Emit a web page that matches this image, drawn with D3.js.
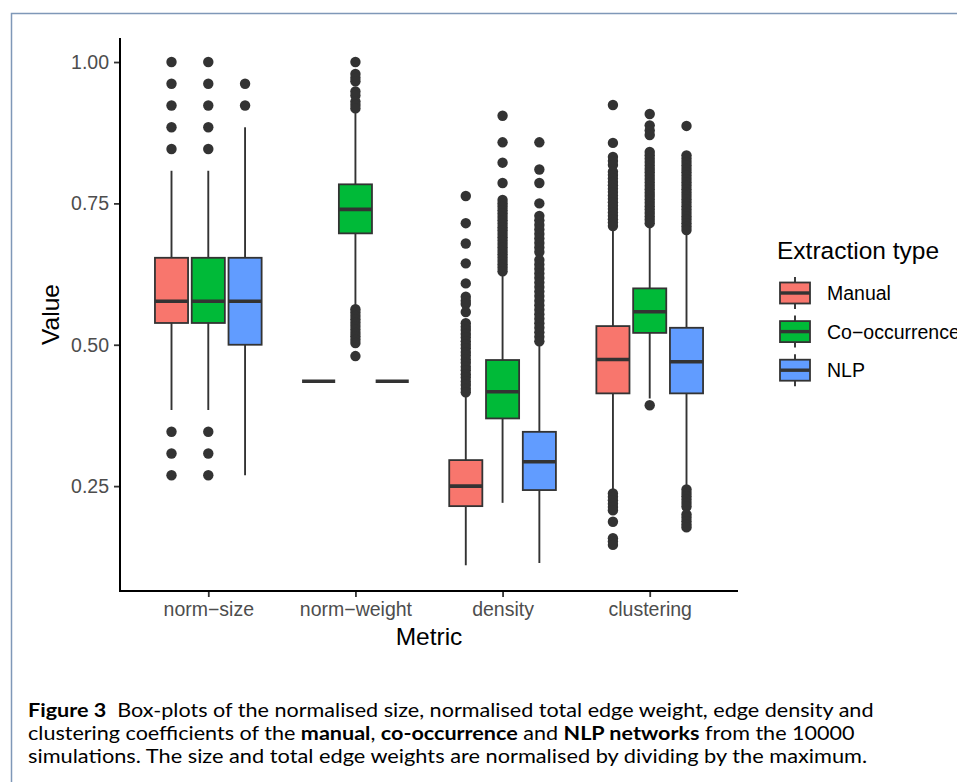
<!DOCTYPE html>
<html>
<head>
<meta charset="utf-8">
<script src="https://cdn.jsdelivr.net/npm/d3@7"></script>
<style>
  html, body { margin: 0; padding: 0; background: #ffffff; }
  svg { display: block; }
</style>
</head>
<body>
<svg id="chart" width="957" height="782"></svg>
<script>
// ---------------- DATA ----------------
const metrics = ["norm\u2212size", "norm\u2212weight", "density", "clustering"];
const types = ["Manual", "Co\u2212occurrence", "NLP"];
const typeColors = ["#F8766D", "#00BA38", "#619CFF"];
const yTickValues = [0.25, 0.50, 0.75, 1.00];
const yTickLabels = ["0.25", "0.50", "0.75", "1.00"];

// box statistics per metric (norm-size, norm-weight, density, clustering)
const manualLow    = [0.3846, 0.4355, 0.110, 0.240];
const manualQ1     = [0.5385, 0.4355, 0.2146, 0.414];
const manualMedian = [0.5769, 0.4355, 0.250, 0.474];
const manualQ3     = [0.6538, 0.4355, 0.296, 0.533];
const manualHigh   = [0.8077, 0.4355, 0.411, 0.706];

const coocLow    = [0.3846, 0.567, 0.2204, 0.405];
const coocQ1     = [0.5385, 0.697, 0.3697, 0.521];
const coocMedian = [0.5769, 0.7394, 0.4168, 0.5583];
const coocQ3     = [0.6538, 0.7837, 0.473, 0.5997];
const coocHigh   = [0.8077, 0.912, 0.623, 0.7117];

const nlpLow    = [0.2692, 0.4355, 0.114, 0.250];
const nlpQ1     = [0.500, 0.4355, 0.243, 0.414];
const nlpMedian = [0.5769, 0.4355, 0.293, 0.470];
const nlpQ3     = [0.6538, 0.4355, 0.346, 0.530];
const nlpHigh   = [0.8846, 0.4355, 0.4994, 0.697];

// outliers per metric
const manualOutliers = [
  [1.0, 0.9615, 0.9231, 0.8846, 0.8462, 0.3462, 0.3077, 0.2692],
  [],
  [0.763, 0.715, 0.679, 0.644, 0.6085, 0.585, 0.578, 0.572, 0.558, 0.538, 0.532, 0.526, 0.519,
   0.513, 0.506, 0.500, 0.494, 0.487, 0.481, 0.474, 0.468, 0.461, 0.455, 0.448, 0.442, 0.435,
   0.429, 0.422, 0.416],
  [0.924, 0.857, 0.832, 0.825, 0.818, 0.806, 0.800, 0.794, 0.788, 0.782, 0.776, 0.770, 0.764,
   0.758, 0.752, 0.746, 0.740, 0.734, 0.728, 0.722, 0.716, 0.710,
   0.237, 0.231, 0.225, 0.219, 0.213, 0.207, 0.187, 0.158, 0.152, 0.146]
];
const coocOutliers = [
  [1.0, 0.9615, 0.9231, 0.8846, 0.8462, 0.3462, 0.3077, 0.2692],
  [1.0, 0.979, 0.972, 0.966, 0.948, 0.941, 0.930, 0.924, 0.918,
   0.563, 0.557, 0.551, 0.545, 0.539, 0.533, 0.527, 0.521, 0.515, 0.509, 0.503, 0.480],
  [0.905, 0.858, 0.822, 0.786, 0.756, 0.750, 0.744, 0.738, 0.732, 0.726, 0.720, 0.714, 0.708,
   0.702, 0.696, 0.690, 0.684, 0.678, 0.672, 0.666, 0.660, 0.654, 0.648, 0.642, 0.636, 0.630],
  [0.908, 0.888, 0.879, 0.871, 0.841, 0.835, 0.829, 0.823, 0.817, 0.811, 0.805, 0.799, 0.793,
   0.787, 0.781, 0.775, 0.769, 0.763, 0.757, 0.751, 0.745, 0.739, 0.733, 0.727, 0.721, 0.715,
   0.393]
];
const nlpOutliers = [
  [0.9615, 0.9231],
  [],
  [0.858, 0.810, 0.786, 0.750, 0.728, 0.720, 0.712, 0.704, 0.696, 0.688, 0.680, 0.672, 0.664,
   0.650, 0.642, 0.634, 0.626, 0.618, 0.610, 0.602, 0.594, 0.586, 0.578, 0.570, 0.562, 0.554,
   0.546, 0.538, 0.530, 0.522, 0.514, 0.506],
  [0.887, 0.835, 0.829, 0.823, 0.817, 0.811, 0.805, 0.799, 0.793, 0.787, 0.781, 0.775, 0.769,
   0.763, 0.757, 0.751, 0.745, 0.739, 0.733, 0.727, 0.721, 0.715, 0.709, 0.703,
   0.244, 0.238, 0.232, 0.226, 0.220, 0.214, 0.200, 0.194, 0.188, 0.182, 0.177]
];

const xTitle = "Metric";
const yTitle = "Value";
const legendTitle = "Extraction type";

// ---------------- BUILD ----------------
const stats = [
  {low: manualLow, q1: manualQ1, med: manualMedian, q3: manualQ3, high: manualHigh, out: manualOutliers},
  {low: coocLow, q1: coocQ1, med: coocMedian, q3: coocQ3, high: coocHigh, out: coocOutliers},
  {low: nlpLow, q1: nlpQ1, med: nlpMedian, q3: nlpQ3, high: nlpHigh, out: nlpOutliers}
];

const svg = d3.select("#chart");
const L = 120, R = 738, T = 38, B = 591;
const ink = "#333333";

// frame
svg.append("path")
  .attr("d", "M11.5,782 L11.5,13.5 L957,13.5")
  .attr("fill", "none").attr("stroke", "#7f98b8").attr("stroke-width", 1.5);

const x = d3.scalePoint().domain(metrics).range([L, R]).padding(0.6);
const y = d3.scaleLinear().domain([0.0645, 1.0425]).range([B, T]);
const step = x.step();
const xs = d3.scaleBand().domain(types).range([-0.375 * step, 0.375 * step])
  .paddingInner(0.1).paddingOuter(0.05);
const bw = xs.bandwidth();

const plot = svg.append("g");

types.forEach((t, ti) => {
  const s = stats[ti];
  metrics.forEach((m, mi) => {
    const cx = x(m) + xs(t) + bw / 2;
    const g = plot.append("g");
    // outliers
    g.selectAll("circle").data(s.out[mi]).join("circle")
      .attr("cx", cx).attr("cy", d => y(d)).attr("r", 5.2)
      .attr("fill", ink);
    // whiskers
    g.append("line").attr("x1", cx).attr("x2", cx)
      .attr("y1", y(s.high[mi])).attr("y2", y(s.q3[mi]))
      .attr("stroke", ink).attr("stroke-width", 1.9);
    g.append("line").attr("x1", cx).attr("x2", cx)
      .attr("y1", y(s.q1[mi])).attr("y2", y(s.low[mi]))
      .attr("stroke", ink).attr("stroke-width", 1.9);
    // box
    g.append("rect")
      .attr("x", cx - bw / 2).attr("width", bw)
      .attr("y", y(s.q3[mi])).attr("height", Math.max(0, y(s.q1[mi]) - y(s.q3[mi])))
      .attr("fill", typeColors[ti]).attr("stroke", ink).attr("stroke-width", 1.8);
    // median
    g.append("line")
      .attr("x1", cx - bw / 2).attr("x2", cx + bw / 2)
      .attr("y1", y(s.med[mi])).attr("y2", y(s.med[mi]))
      .attr("stroke", ink).attr("stroke-width", 3.6);
  });
});

// axes
const yAxis = d3.axisLeft(y).tickValues(yTickValues).tickFormat((d, i) => yTickLabels[i])
  .tickSize(6).tickPadding(5);
const gy = svg.append("g").attr("transform", `translate(${L},0)`).call(yAxis);
gy.select(".domain").remove();
gy.selectAll(".tick line").attr("stroke", ink).attr("stroke-width", 1.8);
gy.selectAll(".tick text").attr("fill", "#4D4D4D")
  .style("font-family", "Liberation Sans, Arial, sans-serif").style("font-size", "19.5px");

const xAxis = d3.axisBottom(x).tickSize(6).tickPadding(5);
const gx = svg.append("g").attr("transform", `translate(0,${B})`).call(xAxis);
gx.select(".domain").remove();
gx.selectAll(".tick line").attr("stroke", ink).attr("stroke-width", 1.8);
gx.selectAll(".tick text").attr("fill", "#4D4D4D")
  .style("font-family", "Liberation Sans, Arial, sans-serif").style("font-size", "19.5px");

svg.append("line").attr("x1", L).attr("x2", L).attr("y1", T).attr("y2", B + 1)
  .attr("stroke", "#000").attr("stroke-width", 2);
svg.append("line").attr("x1", L - 1).attr("x2", R).attr("y1", B).attr("y2", B)
  .attr("stroke", "#000").attr("stroke-width", 2);

// axis titles
svg.append("text").text(xTitle)
  .attr("x", (L + R) / 2).attr("y", 645).attr("text-anchor", "middle")
  .style("font-family", "Liberation Sans, Arial, sans-serif").style("font-size", "24.5px").attr("fill", "#000");
svg.append("text").text(yTitle)
  .attr("transform", `translate(59,${(T + B) / 2}) rotate(-90)`).attr("text-anchor", "middle")
  .style("font-family", "Liberation Sans, Arial, sans-serif").style("font-size", "24.5px").attr("fill", "#000");

// legend
const lg = svg.append("g");
lg.append("text").text(legendTitle).attr("x", 777).attr("y", 259)
  .style("font-family", "Liberation Sans, Arial, sans-serif").style("font-size", "24.5px").attr("fill", "#000");
types.forEach((t, i) => {
  const cy = 293 + i * 38.6;
  const kx = 795;
  lg.append("line").attr("x1", kx).attr("x2", kx).attr("y1", cy - 16).attr("y2", cy + 16)
    .attr("stroke", ink).attr("stroke-width", 1.9);
  lg.append("rect").attr("x", kx - 15).attr("width", 30).attr("y", cy - 10.5).attr("height", 21)
    .attr("fill", typeColors[i]).attr("stroke", ink).attr("stroke-width", 1.8);
  lg.append("line").attr("x1", kx - 15).attr("x2", kx + 15).attr("y1", cy).attr("y2", cy)
    .attr("stroke", ink).attr("stroke-width", 3.4);
  lg.append("text").text(t).attr("x", 827).attr("y", cy + 7)
    .style("font-family", "Liberation Sans, Arial, sans-serif").style("font-size", "19.5px").attr("fill", "#000");
});

// caption
const captionLines = [
  [["Figure 3", true], ["  Box-plots of the normalised size, normalised total edge weight, edge density and", false]],
  [["clustering coefficients of the ", false], ["manual", true], [", ", false], ["co-occurrence", true],
   [" and ", false], ["NLP networks", true], [" from the 10000", false]],
  [["simulations. The size and total edge weights are normalised by dividing by the maximum.", false]]
];
const captionWidths = [846, 827, 840];
const capBase = [717, 740, 763];
captionLines.forEach((parts, i) => {
  const txt = svg.append("text").attr("x", 0).attr("y", 0)
    .style("font-family", "Lato, 'Open Sans', sans-serif").style("font-size", "18.5px")
    .attr("fill", "#000").attr("xml:space", "preserve");
  parts.forEach(([s, b]) => {
    txt.append("tspan").text(s).style("font-weight", b ? "bold" : "normal");
  });
  const w = txt.node().getComputedTextLength();
  const k = captionWidths[i] / w;
  txt.attr("transform", `translate(28,${capBase[i]}) scale(${k},1)`);
});
</script>
</body>
</html>
